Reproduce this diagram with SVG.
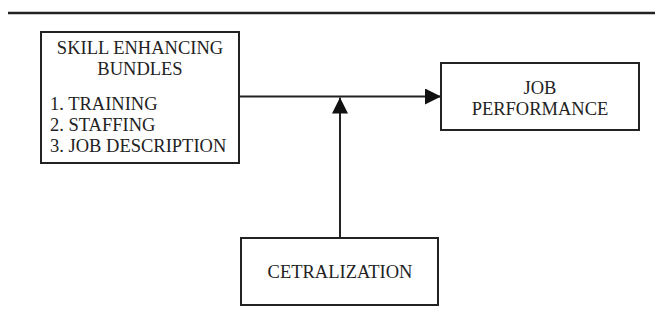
<svg xmlns="http://www.w3.org/2000/svg" width="655" height="320" viewBox="0 0 655 320">
<style>
.box{fill:#fff;stroke:#222;stroke-width:2}
.t{font-family:"Liberation Serif","Times New Roman",serif;font-size:18.5px;fill:#222}
.c{text-anchor:middle}
.ln{stroke:#222;stroke-width:2;fill:none}
</style>
<defs>
<marker id="ah" viewBox="0 0 16 16" refX="16" refY="8" markerWidth="16" markerHeight="16" markerUnits="userSpaceOnUse" orient="auto">
<path d="M0,0 L16,8 L0,16 Z" fill="#111"/>
</marker>
</defs>
<rect width="655" height="320" fill="#fff"/>
<line x1="8" y1="13" x2="655" y2="13" stroke="#222" stroke-width="2.6"/>
<g id="connectors">
<line class="ln" x1="239" y1="96.5" x2="441" y2="96.5" marker-end="url(#ah)"/>
<line class="ln" x1="340" y1="238" x2="340" y2="97.5" marker-end="url(#ah)"/>
</g>
<g id="skill">
<rect class="box" x="41" y="32" width="198" height="131"/>
<text class="t c" x="140" y="54">SKILL ENHANCING</text>
<text class="t c" x="140" y="75">BUNDLES</text>
<text class="t" x="50" y="110">1. TRAINING</text>
<text class="t" x="50" y="131">2. STAFFING</text>
<text class="t" x="50" y="152">3. JOB DESCRIPTION</text>
</g>
<g id="job">
<rect class="box" x="441" y="63" width="198" height="67"/>
<text class="t c" x="540" y="94">JOB</text>
<text class="t c" x="540" y="115">PERFORMANCE</text>
</g>
<g id="cetralization">
<rect class="box" x="241" y="238" width="197" height="67"/>
<text class="t c" x="340" y="278">CETRALIZATION</text>
</g>
</svg>
